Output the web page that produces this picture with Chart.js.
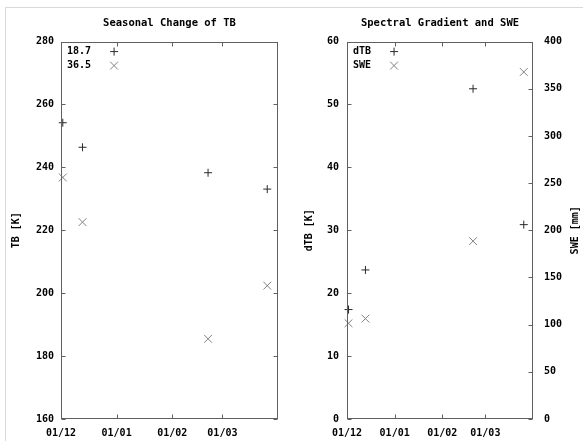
<!DOCTYPE html>
<html><head><meta charset="utf-8">
<script src="https://cdn.jsdelivr.net/npm/chart.js@4/dist/chart.umd.min.js"></script>
<style>
html,body{margin:0;padding:0;background:#fff;}
#wrap{position:relative;width:583px;height:441px;overflow:hidden;background:#fff;}
#frame{position:absolute;left:5px;top:7px;width:700px;height:600px;border-top:1px solid #d9d9d9;border-left:1px solid #d9d9d9;}
#c1{position:absolute;left:0;top:0;}
#c2{position:absolute;left:290px;top:0;}
</style></head><body>
<div id="wrap"><div id="frame"></div>
<canvas id="c1" width="290" height="441"></canvas>
<canvas id="c2" width="293" height="441"></canvas></div>
<script>
// ---- data ----
const obsDates   = ['2006-12-02', '2006-12-13', '2007-02-21', '2007-03-26'];
const tb187      = [254.2, 246.4, 238.3, 233.1];
const tb365      = [236.8, 222.6, 185.5, 202.4];
const dtb        = [17.4, 23.7, 52.5, 30.9];
const swe        = [101.5, 106.4, 188.5, 367.8];
const tickDates  = ['2006-12-01', '2007-01-01', '2007-02-01', '2007-03-01'];
const tickLabels = ['01/12', '01/01', '01/02', '01/03'];
const rangeStart = '2006-12-01';
const rangeEnd   = '2007-04-01';

// ---- helpers ----
const dayOf = s => { const [y,m,d] = s.split('-').map(Number); return Date.UTC(y,m-1,d); };
const t0 = dayOf(rangeStart);
const toDay = s => (dayOf(s) - t0) / 86400000;
const tickDays = tickDates.map(toDay);
const xMax = toDay(rangeEnd);
const pts = ys => obsDates.map((d,i) => ({x: toDay(d), y: ys[i]}));

const FAMILY = "'DejaVu Sans Mono', 'Liberation Mono', monospace";
Chart.defaults.font = {family: FAMILY, size: 10, weight: 'bold'};
Chart.defaults.color = '#000';

const FRAME = '#606060';
const C_PLUS = '#2a2a2a';
const C_X = '#808080';

const xScale = (w) => ({
  type: 'linear', min: 0, max: xMax,
  afterBuildTicks: s => { s.ticks = tickDays.map(v => ({value: v})); },
  ticks: {autoSkip: false, maxRotation: 0, padding: 8,
          callback: v => { const i = tickDays.indexOf(v); return i >= 0 ? tickLabels[i] : ''; }},
  grid: {display: false, drawTicks: false},
  border: {display: false},
  afterFit: s => { s.height = 22; }
});

const framePlugin = {
  id: 'gnuframe',
  afterDatasetsDraw(chart, args, opts) {
    const ctx = chart.ctx, a = chart.chartArea;
    const L = Math.round(a.left) + 0.5, R = Math.round(a.right) - 0.5;
    const T = Math.round(a.top) + 0.5, B = Math.round(a.bottom) - 0.5;
    ctx.save();
    ctx.strokeStyle = FRAME; ctx.lineWidth = 1;
    ctx.strokeRect(L, T, R - L, B - T);
    const tl = 4;
    ctx.beginPath();
    const xs = chart.scales.x;
    xs.ticks.forEach(t => {
      const p = Math.round(xs.getPixelForValue(t.value)) + 0.5;
      ctx.moveTo(p, B); ctx.lineTo(p, B - tl);
      ctx.moveTo(p, T); ctx.lineTo(p, T + tl);
    });
    const ys = chart.scales.y;
    const hasY2 = !!chart.scales.y2;
    ys.ticks.forEach(t => {
      const p = Math.round(ys.getPixelForValue(t.value)) + 0.5;
      ctx.moveTo(L, p); ctx.lineTo(L + tl, p);
      if (!hasY2) { ctx.moveTo(R, p); ctx.lineTo(R - tl, p); }
    });
    if (hasY2) {
      const y2 = chart.scales.y2;
      y2.ticks.forEach(t => {
        const p = Math.round(y2.getPixelForValue(t.value)) + 0.5;
        ctx.moveTo(R, p); ctx.lineTo(R - tl, p);
      });
      // y2 title, reading bottom-to-top
      const tt = y2.options.title;
      ctx.font = `bold 10px ${FAMILY}`;
      ctx.fillStyle = '#000';
      ctx.translate(a.right + opts.y2TitleOffset, (a.top + a.bottom) / 2);
      ctx.rotate(-Math.PI / 2);
      ctx.textAlign = 'center'; ctx.textBaseline = 'middle';
      ctx.fillText(tt.text, 0, 0);
      ctx.setTransform(1,0,0,1,0,0);
    }
    ctx.stroke();
    // key
    ctx.font = `bold 10px ${FAMILY}`;
    ctx.fillStyle = '#000';
    ctx.textAlign = 'left'; ctx.textBaseline = 'middle';
    const ds = chart.data.datasets;
    const tx = a.left + 6;
    const maxW = Math.max(...ds.map(d => ctx.measureText(d.label).width));
    const mx = tx + maxW + 23;
    ds.forEach((d, i) => {
      const y = a.top + 10 + i * 14;
      ctx.fillText(d.label, tx, y);
      ctx.strokeStyle = d.borderColor; ctx.lineWidth = 1;
      Chart.helpers.drawPoint(ctx, {pointStyle: d.pointStyle, radius: d.pointRadius, rotation: 0, borderWidth: 1}, mx, y);
    });
    ctx.restore();
  }
};

const common = {
  responsive: false, animation: false, devicePixelRatio: 1,
  layout: {padding: 0},
  events: [],
};

new Chart(document.getElementById('c1'), {
  type: 'scatter',
  data: {datasets: [
    {label: '18.7', data: pts(tb187), pointStyle: 'cross', pointRadius: 4, borderColor: C_PLUS, backgroundColor: C_PLUS, borderWidth: 1, clip: false},
    {label: '36.5', data: pts(tb365), pointStyle: 'crossRot', pointRadius: 5.5, borderColor: C_X, backgroundColor: C_X, borderWidth: 1, clip: false}
  ]},
  options: Object.assign({}, common, {
    layout: {padding: {right: 12}},
    plugins: {
      legend: {display: false}, tooltip: {enabled: false},
      title: {display: true, text: 'Seasonal Change of TB', fullSize: false,
              font: {family: FAMILY, size: 10.5, weight: 'bold'}, padding: {top: 17, bottom: 12}},
      gnuframe: {}
    },
    scales: {
      x: xScale(),
      y: {min: 160, max: 280, ticks: {stepSize: 20, padding: 7},
          grid: {display: false, drawTicks: false}, border: {display: false},
          title: {display: true, text: 'TB [K]', padding: {top: 10, bottom: 0}},
          afterFit: s => { s.width = 61; }}
    }
  }),
  plugins: [framePlugin]
});

new Chart(document.getElementById('c2'), {
  type: 'scatter',
  data: {datasets: [
    {label: 'dTB', data: pts(dtb), yAxisID: 'y', pointStyle: 'cross', pointRadius: 4, borderColor: C_PLUS, backgroundColor: C_PLUS, borderWidth: 1, clip: false},
    {label: 'SWE', data: pts(swe), yAxisID: 'y2', pointStyle: 'crossRot', pointRadius: 5.5, borderColor: C_X, backgroundColor: C_X, borderWidth: 1, clip: false}
  ]},
  options: Object.assign({}, common, {
    plugins: {
      legend: {display: false}, tooltip: {enabled: false},
      title: {display: true, text: 'Spectral Gradient and SWE', fullSize: false,
              font: {family: FAMILY, size: 10.5, weight: 'bold'}, padding: {top: 17, bottom: 12}},
      gnuframe: {y2TitleOffset: 42.7}
    },
    scales: {
      x: xScale(),
      y: {position: 'left', min: 0, max: 60, ticks: {stepSize: 10, padding: 8},
          grid: {display: false, drawTicks: false}, border: {display: false},
          title: {display: true, text: 'dTB [K]', padding: {top: 13, bottom: 0}},
          afterFit: s => { s.width = 57; }},
      y2: {position: 'right', min: 0, max: 400, ticks: {stepSize: 50, padding: 11},
          grid: {display: false, drawTicks: false}, border: {display: false},
          title: {display: false, text: 'SWE [mm]'},
          afterFit: s => { s.width = 50; }}
    }
  }),
  plugins: [framePlugin]
});
</script>
</body></html>
